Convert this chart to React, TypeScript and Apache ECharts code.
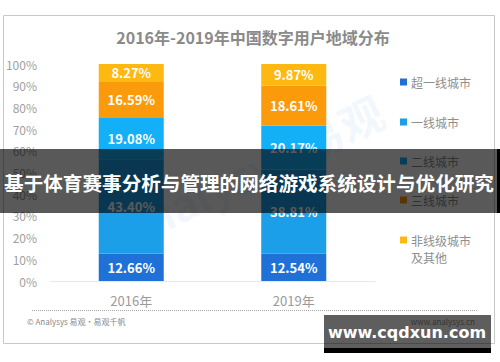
import React, { useEffect, useRef } from "react";
import * as echarts from "echarts";

const categories = ["2016年", "2019年"];
const seriesNames = ["超一线城市", "一线城市", "二线城市", "三线城市", "非线级城市\n及其他"];
const superTier1 = [12.66, 12.54];
const tier1 = [43.4, 38.81];
const tier2 = [19.08, 20.17];
const tier3 = [16.59, 18.61];
const others = [8.27, 9.87];
const seriesValues = [superTier1, tier1, tier2, tier3, others];
const colors = ["#1f71d8", "#1a9fe8", "#14b0f7", "#fb9b0b", "#feb812"];

const titleText = "2016年-2019年中国数字用户地域分布";
const bannerText = "基于体育赛事分析与管理的网络游戏系统设计与优化研究";
const watermarkText = "www.cqdxun.com";
const sourceText = "© Analysys 易观·易观千帆";
const siteText = "www.analysys.cn";

const FONT = "'Noto Sans CJK SC', 'Noto Sans', sans-serif";

export default function App() {
  const ref = useRef<HTMLDivElement>(null);
  useEffect(() => {
    if (!ref.current) return;
    const chart = echarts.init(ref.current, undefined, { renderer: "svg" });
    const legendY = [82, 122, 161, 200, 240];
    const legendGraphics: any[] = [];
    seriesNames.forEach((n, i) => {
      legendGraphics.push({
        type: "rect",
        shape: { x: 400, y: legendY[i] - 3.5, width: 7, height: 7 },
        style: { fill: colors[i] },
        z: 5,
      });
      legendGraphics.push({
        type: "text",
        x: 411,
        y: legendY[i] - 8,
        style: {
          text: n,
          fill: "#8e8e8e",
          font: `12px ${FONT}`,
          lineHeight: 17,
          verticalAlign: "top",
        },
        z: 5,
      });
    });

    chart.setOption({
      animation: false,
      backgroundColor: "#ffffff",
      textStyle: { fontFamily: FONT },
      title: {
        text: titleText,
        left: 248,
        textAlign: "center",
        top: 24,
        textStyle: { fontSize: 16, fontWeight: "bold", color: "#8a8a8a", fontFamily: FONT },
      },
      grid: { left: 50, right: 125, top: 64, bottom: 81 },
      xAxis: {
        type: "category",
        data: categories,
        axisLine: { lineStyle: { color: "#e8e8e8", width: 1 } },
        axisTick: { show: false },
        axisLabel: { color: "#9a9a9a", fontSize: 13, margin: 13, fontFamily: FONT },
      },
      yAxis: {
        type: "value",
        min: 0,
        max: 100,
        interval: 10,
        axisLine: { show: false },
        axisTick: { show: false },
        splitLine: { show: false },
        axisLabel: { formatter: "{value}%", color: "#a0a0a0", fontSize: 12, margin: 13, fontFamily: FONT },
      },
      series: seriesNames.map((n, i) => ({
        name: n,
        type: "bar",
        stack: "total",
        barWidth: 65,
        data: seriesValues[i],
        itemStyle: { color: colors[i] },
        label: {
          show: true,
          position: "inside",
          formatter: (p: any) => p.value.toFixed(2) + "%",
          color: "#ffffff",
          fontWeight: "bold",
          fontSize: 13,
          fontFamily: FONT,
        },
      })),
      graphic: [
        {
          type: "rect",
          shape: { x: 3.5, y: 15.5, width: 491, height: 328 },
          style: { fill: "none", stroke: "#c8c8c8", lineWidth: 1 },
          z: -1,
        },
        {
          type: "text",
          x: 250,
          y: 170,
          rotation: Math.PI / 7,
          style: {
            text: "Analysys 易观",
            fill: "rgba(120,180,235,0.1)",
            font: `bold 44px ${FONT}`,
            align: "center",
            verticalAlign: "middle",
          },
          z: 1,
        },
        ...legendGraphics,
        {
          type: "line",
          shape: { x1: 32, y1: 310.5, x2: 477, y2: 310.5 },
          style: { stroke: "#a8a8a8", lineWidth: 1, lineDash: [1, 1] },
          z: 5,
        },
        {
          type: "text",
          x: 27,
          y: 321,
          style: { text: sourceText, fill: "#8a8a8a", font: `8px ${FONT}`, verticalAlign: "middle" },
          z: 5,
        },
        {
          type: "text",
          x: 475,
          y: 321,
          style: { text: siteText, fill: "#8a8a8a", font: `8px ${FONT}`, align: "right", verticalAlign: "middle" },
          z: 5,
        },
        {
          type: "rect",
          shape: { x: 0, y: 149, width: 500, height: 64 },
          style: { fill: "rgba(0,0,0,0.65)" },
          z: 100,
        },
        {
          type: "rect",
          shape: { x: 497, y: 149, width: 3, height: 64 },
          style: { fill: "#000000" },
          z: 100,
        },
        {
          type: "text",
          x: 249,
          y: 182,
          style: {
            text: bannerText,
            fill: "#ffffff",
            font: `bold 19.6px ${FONT}`,
            align: "center",
            verticalAlign: "middle",
          },
          z: 101,
        },
        {
          type: "rect",
          shape: { x: 324, y: 315, width: 167, height: 38 },
          style: { fill: "rgba(0,0,0,0.63)" },
          z: 100,
        },
        {
          type: "rect",
          shape: { x: 324, y: 348, width: 167, height: 5 },
          style: { fill: "#000000" },
          z: 100,
        },
        {
          type: "text",
          x: 407,
          y: 332,
          style: {
            text: watermarkText,
            fill: "#ffffff",
            font: `bold 16px 'DejaVu Sans', sans-serif`,
            align: "center",
            verticalAlign: "middle",
          },
          z: 101,
        },
      ],
    });
    return () => chart.dispose();
  }, []);
  return (
    <div
      ref={ref}
      style={{ position: "fixed", left: 0, top: 0, width: 500, height: 362 }}
    />
  );
}
